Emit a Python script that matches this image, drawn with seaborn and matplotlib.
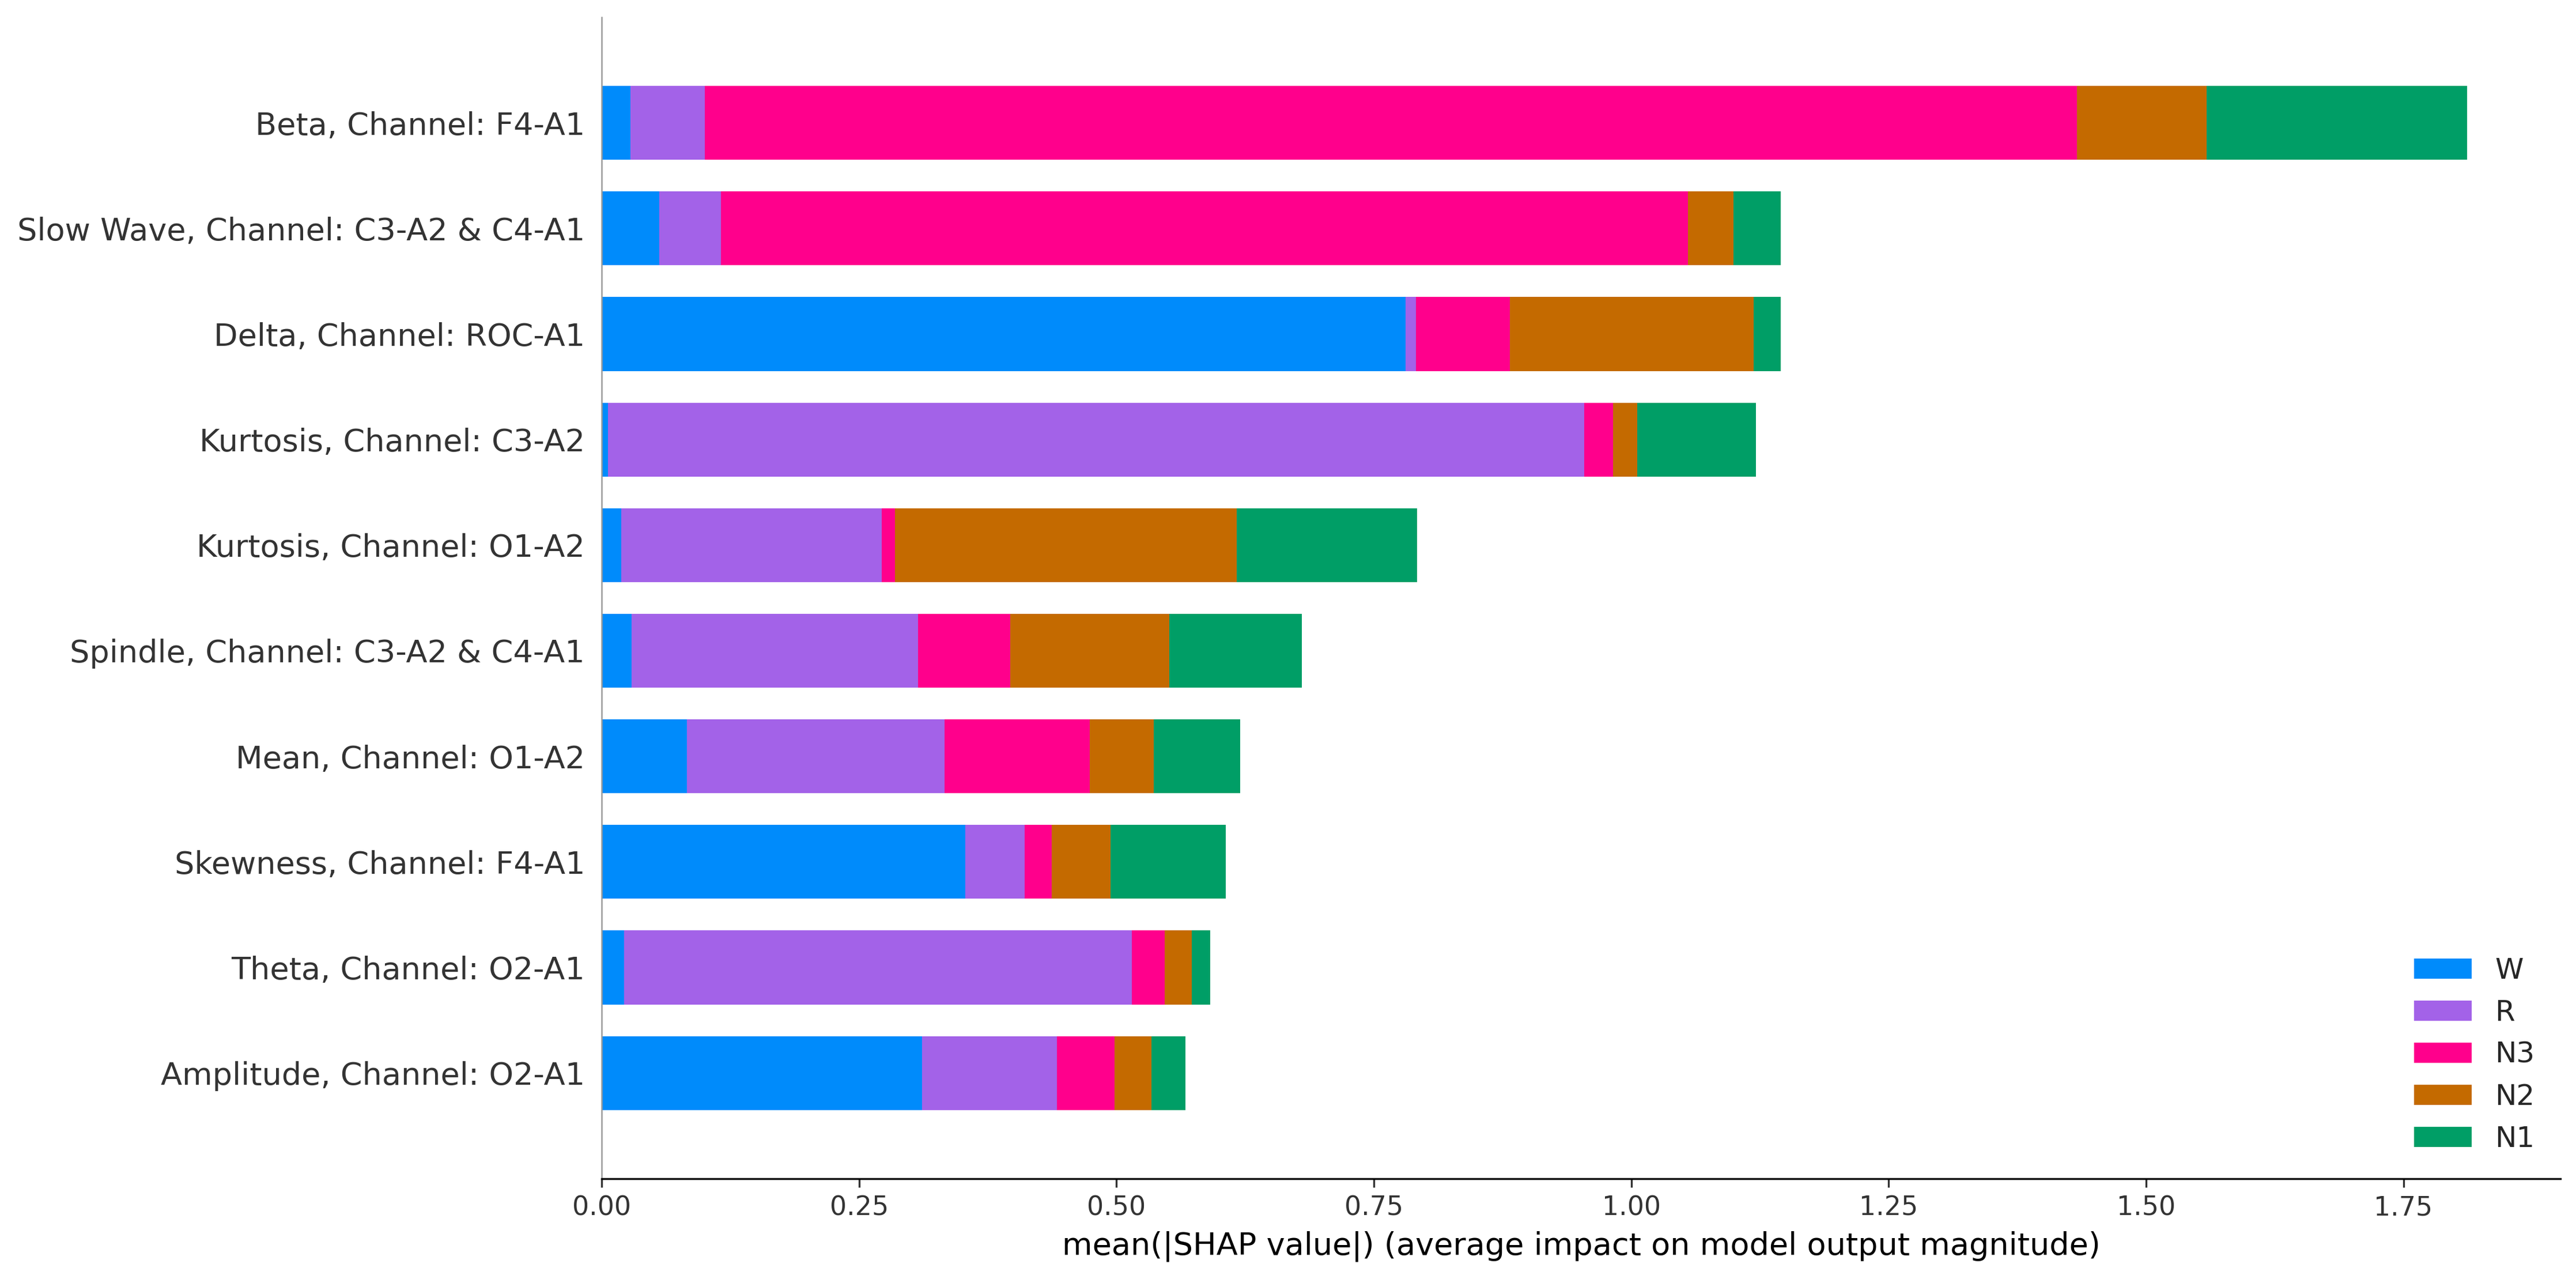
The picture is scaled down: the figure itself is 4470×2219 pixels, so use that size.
import numpy as np
import matplotlib
matplotlib.use("Agg")
import matplotlib.pyplot as plt
import seaborn as sns

# feature names, top to bottom
features = [
    "Beta, Channel: F4-A1",
    "Slow Wave, Channel: C3-A2 & C4-A1",
    "Delta, Channel: ROC-A1",
    "Kurtosis, Channel: C3-A2",
    "Kurtosis, Channel: O1-A2",
    "Spindle, Channel: C3-A2 & C4-A1",
    "Mean, Channel: O1-A2",
    "Skewness, Channel: F4-A1",
    "Theta, Channel: O2-A1",
    "Amplitude, Channel: O2-A1",
]

# mean |SHAP| per sleep stage
W = [0.028, 0.056, 0.781, 0.006, 0.019, 0.029, 0.083, 0.353, 0.022, 0.311]
R = [0.072, 0.060, 0.010, 0.948, 0.253, 0.278, 0.250, 0.058, 0.493, 0.131]
N3 = [1.333, 0.939, 0.091, 0.028, 0.013, 0.090, 0.141, 0.026, 0.032, 0.056]
N2 = [0.126, 0.044, 0.237, 0.024, 0.332, 0.154, 0.062, 0.057, 0.026, 0.036]
N1 = [0.253, 0.046, 0.026, 0.115, 0.175, 0.129, 0.084, 0.112, 0.018, 0.033]

stages = ["W", "R", "N3", "N2", "N1"]
values = {"W": W, "R": R, "N3": N3, "N2": N2, "N1": N1}
colors = {"W": "#008bfb", "R": "#a362e8", "N3": "#ff008c", "N2": "#c46a00", "N1": "#009e66"}

sns.set_style("white")
plt.rcParams["font.family"] = ["DejaVu Sans"]

fig, ax = plt.subplots(figsize=(14.9, 7.3967), dpi=300)
fig.subplots_adjust(left=0.2336, right=0.994, bottom=0.0785, top=0.9865)

# stacked bars: draw running totals from the outermost stage inward
cum = np.cumsum(np.array([values[s] for s in stages]), axis=0)
for i in range(len(stages) - 1, -1, -1):
    sns.barplot(x=cum[i], y=features, orient="h", color=colors[stages[i]],
                saturation=1, width=0.7, linewidth=0, label=stages[i], ax=ax)

ax.set_ylim(len(features), -1)
ax.set_xlabel("mean(|SHAP value|) (average impact on model output magnitude)",
              fontsize=13, color="black")
ax.set_ylabel("")

ax.tick_params(axis="y", length=0, labelsize=13, labelcolor="#333333", pad=7)
ax.tick_params(axis="x", bottom=True, length=3.5, width=0.8, color="#333333",
               labelsize=11, labelcolor="#333333", direction="out")

for side in ["top", "right"]:
    ax.spines[side].set_visible(False)
ax.spines["left"].set_color("#999999")
ax.spines["left"].set_linewidth(0.6)
ax.spines["bottom"].set_color("black")
ax.spines["bottom"].set_linewidth(0.8)

handles, labels = ax.get_legend_handles_labels()
lookup = dict(zip(labels, handles))
ax.legend([lookup[s] for s in stages], stages, frameon=False, fontsize=12,
          loc="lower right")

fig.savefig("out.png", dpi=300)
